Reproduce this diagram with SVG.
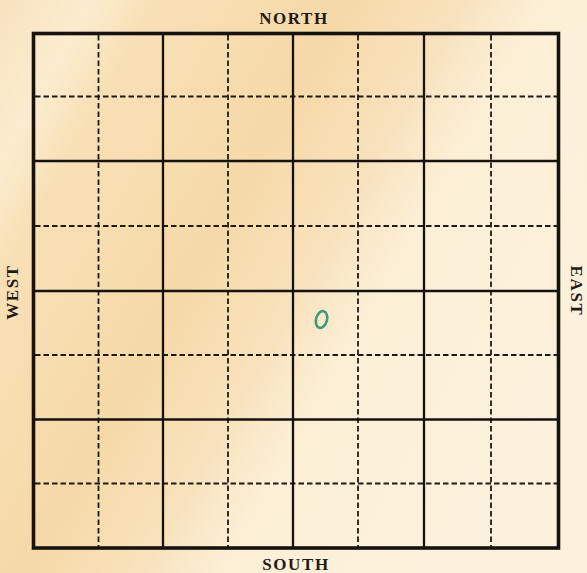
<svg xmlns="http://www.w3.org/2000/svg" width="587" height="573" viewBox="0 0 587 573">
<style>
.border{fill:none;stroke:#151210;stroke-width:3.6}
.solid{stroke:#151210;stroke-width:2.3}
.dash{stroke:#1e1a16;stroke-width:1.8;stroke-dasharray:5.5 3}
.lbl{font-family:"Liberation Serif","DejaVu Serif",serif;font-size:17px;font-weight:bold;fill:#1f1a17;letter-spacing:1.6px;text-anchor:middle}
</style>
<defs>
<linearGradient id="bg" x1="0" y1="0" x2="587" y2="330" gradientUnits="userSpaceOnUse">
<stop offset="0" stop-color="#f8e2be"/>
<stop offset="0.12" stop-color="#fbeccf"/>
<stop offset="0.2" stop-color="#f8e0b6"/>
<stop offset="0.45" stop-color="#f6d9a8"/>
<stop offset="0.6" stop-color="#f8e2bd"/>
<stop offset="0.7" stop-color="#fcefd6"/>
<stop offset="1" stop-color="#fcf1dc"/>
</linearGradient>
</defs>
<rect width="587" height="573" fill="url(#bg)"/>
<g id="grid">
<g id="dashed">
<line class="dash" x1="98.5" y1="35" x2="98.5" y2="547"/>
<line class="dash" x1="228" y1="35" x2="228" y2="547"/>
<line class="dash" x1="358" y1="35" x2="358" y2="547"/>
<line class="dash" x1="491" y1="35" x2="491" y2="547"/>
<line class="dash" x1="35" y1="96.5" x2="558" y2="96.5"/>
<line class="dash" x1="35" y1="226" x2="558" y2="226"/>
<line class="dash" x1="35" y1="355" x2="558" y2="355"/>
<line class="dash" x1="35" y1="483.5" x2="558" y2="483.5"/>
</g>
<g id="solid">
<line class="solid" x1="163" y1="34" x2="163" y2="548"/>
<line class="solid" x1="293" y1="34" x2="293" y2="548"/>
<line class="solid" x1="424" y1="34" x2="424" y2="548"/>
<line class="solid" x1="34" y1="161" x2="558" y2="161"/>
<line class="solid" x1="34" y1="291" x2="558" y2="291"/>
<line class="solid" x1="34" y1="419.5" x2="558" y2="419.5"/>
</g>
<rect class="border" x="33.5" y="33.5" width="525" height="514.5"/>
</g>
<g id="labels">
<text class="lbl" x="294" y="24">NORTH</text>
<text class="lbl" x="296" y="569.5">SOUTH</text>
<text class="lbl" transform="translate(18,292) rotate(-90)">WEST</text>
<text class="lbl" transform="translate(571,291) rotate(90)">EAST</text>
</g>
<ellipse id="mark" cx="321.5" cy="319.5" rx="5.5" ry="8.5" transform="rotate(15 321.5 319.5)" fill="none" stroke="#3f9a7c" stroke-width="2.6"/>
</svg>
